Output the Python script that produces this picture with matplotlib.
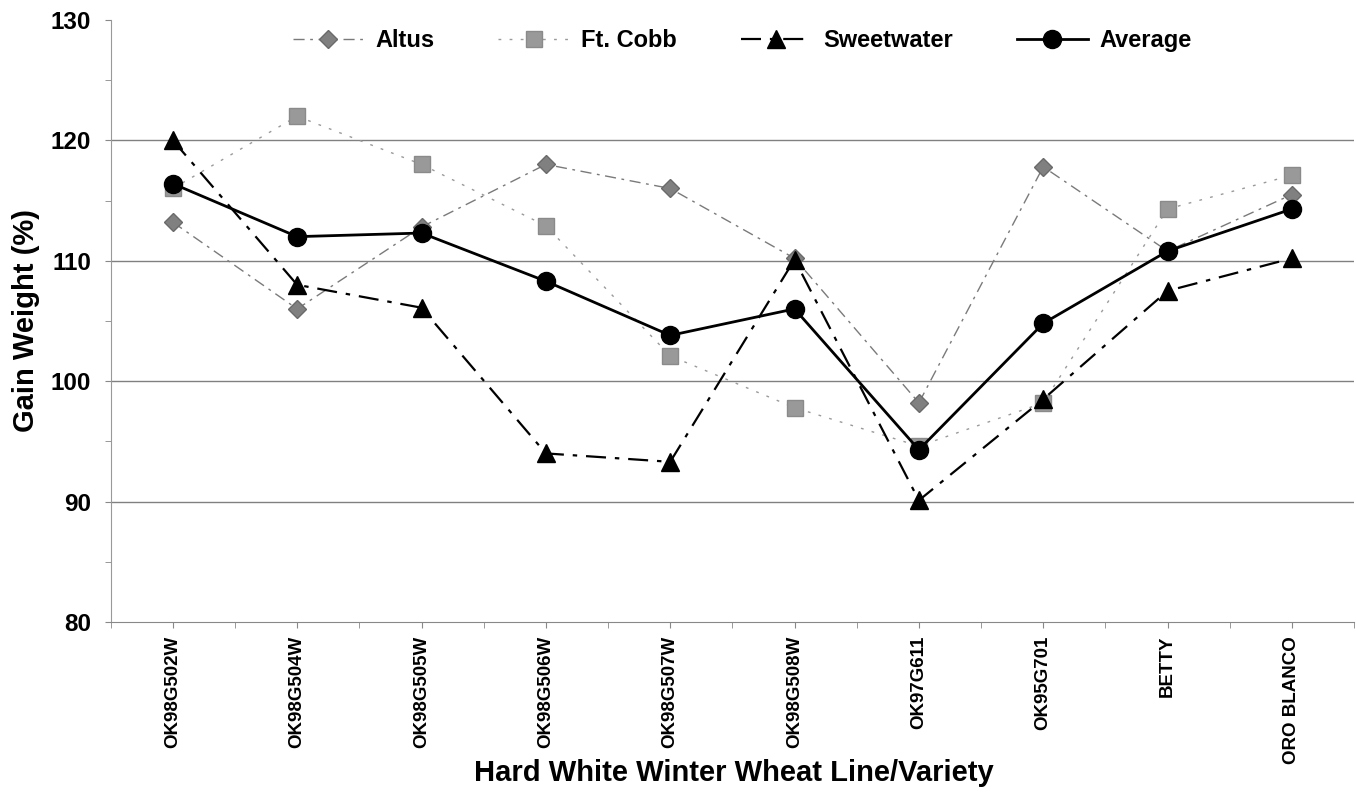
import matplotlib
matplotlib.use('Agg')
import matplotlib.pyplot as plt
from matplotlib.ticker import MultipleLocator
import numpy as np

plt.rcParams['font.family'] = ['Liberation Sans', 'DejaVu Sans']
plt.rcParams['font.weight'] = 'bold'

# hard white winter wheat lines
lines = ['OK98G502W', 'OK98G504W', 'OK98G505W', 'OK98G506W', 'OK98G507W',
         'OK98G508W', 'OK97G611', 'OK95G701', 'BETTY', 'ORO BLANCO']

altus = [113.2, 106.0, 112.8, 118.0, 116.0, 110.2, 98.2, 117.8, 110.8, 115.5]
ft_cobb = [116.0, 122.0, 118.0, 112.9, 102.1, 97.8, 94.6, 98.2, 114.3, 117.1]
sweetwater = [120.0, 108.0, 106.1, 94.0, 93.3, 110.1, 90.1, 98.5, 107.5, 110.2]
average = [116.4, 112.0, 112.3, 108.3, 103.8, 106.0, 94.3, 104.8, 110.8, 114.3]

x = np.arange(len(lines))

fig = plt.figure(figsize=(13.56, 7.96), dpi=100)
ax = fig.add_axes([0.0816, 0.2186, 0.917, 0.7564])

ax.plot(x, altus, color='#7a7a7a', lw=1.0, ls=(0, (8, 4, 2, 4)),
        marker='D', ms=9, mfc='#808080', mec='#6a6a6a', label='Altus', zorder=3)
ax.plot(x, ft_cobb, color='#9a9a9a', lw=1.0, ls=(0, (2, 6)),
        marker='s', ms=11, mfc='#999999', mec='#8a8a8a', label='Ft. Cobb', zorder=3)
ax.plot(x, sweetwater, color='black', lw=1.6, ls=(0, (9, 4, 2, 4)),
        marker='^', ms=13, mfc='black', mec='black', label='Sweetwater', zorder=4)
ax.plot(x, average, color='black', lw=2.0, ls='-',
        marker='o', ms=13, mfc='black', mec='black', label='Average', zorder=5)

ax.set_xlim(-0.5, len(lines) - 0.5)
ax.set_ylim(80, 130)
ax.yaxis.set_major_locator(MultipleLocator(10))
ax.yaxis.set_minor_locator(MultipleLocator(5))
ax.set_xticks(x)
ax.set_xticks(np.arange(-0.5, len(lines), 1.0), minor=True)
ax.set_xticklabels(lines, rotation=90, fontsize=13.5, fontweight='bold')
ax.tick_params(axis='y', which='major', labelsize=17.5, length=4, color='#888888', pad=10)
ax.tick_params(axis='y', which='minor', length=4, color='#888888')
ax.tick_params(axis='x', which='both', length=4, color='#888888', pad=6)
for lbl in ax.get_yticklabels():
    lbl.set_fontweight('bold')

for v in [90, 100, 110, 120]:
    ax.axhline(v, color='#808080', lw=1.0, zorder=1)

for s in ['top', 'right']:
    ax.spines[s].set_visible(False)
ax.spines['left'].set_color('#999999')
ax.spines['bottom'].set_color('#888888')

fig.text(0.541, 0.029, 'Hard White Winter Wheat Line/Variety', fontsize=21,
         fontweight='bold', ha='center', va='center')
ax.set_ylabel('Gain Weight (%)', fontsize=21, fontweight='bold', labelpad=8)

leg = ax.legend(loc='upper center', bbox_to_anchor=(0.508, 1.02), ncol=4, frameon=False,
                fontsize=17, handlelength=3.0, handletextpad=0.5, columnspacing=2.7)
for t in leg.get_texts():
    t.set_fontweight('bold')

fig.savefig('out.png', dpi=100)
